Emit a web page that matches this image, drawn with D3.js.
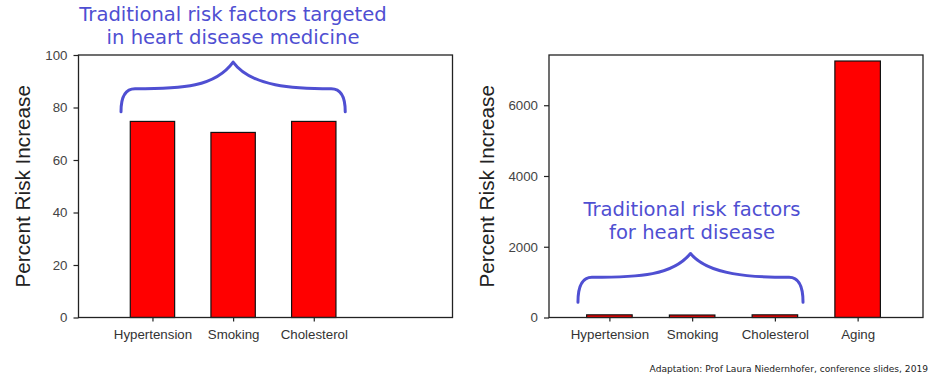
<!DOCTYPE html>
<html>
<head>
<meta charset="utf-8">
<script src="https://cdn.jsdelivr.net/npm/d3@7"></script>
<style>
  body { margin: 0; background: #fff; }
  svg { display: block; }
  .tick text { font-family: "Liberation Sans", Arial, sans-serif; }
</style>
</head>
<body>
<svg id="chart"></svg>
<script>
// chart data
const left_categories = ["Hypertension", "Smoking", "Cholesterol"];
const left_values = [74.7, 70.5, 74.7];
const left_ticks = [0, 20, 40, 60, 80, 100];

const right_categories = ["Hypertension", "Smoking", "Cholesterol", "Aging"];
const right_values = [75, 70, 75, 7250];
const right_ticks = [0, 2000, 4000, 6000];

const left_note = ["Traditional risk factors targeted", "in heart disease medicine"];
const right_note = ["Traditional risk factors", "for heart disease"];
const source_text = "Adaptation: Prof Laura Niedernhofer, conference slides, 2019";

const width = 933;
const height = 378;
const blue = "#4f4fd2";

const svg = d3.select("#chart").attr("width", width).attr("height", height);

// one panel = frame + bars + axes
function draw_panel(cfg) {
  const x = d3.scaleLinear().domain(cfg.xdomain).range([cfg.left, cfg.right]);
  const y = d3.scaleLinear().domain(cfg.ydomain).range([cfg.bottom, cfg.top]);
  const bw = x(0.55) - x(0);

  const g = svg.append("g");

  g.selectAll(".bar")
    .data(cfg.values)
    .enter().append("rect").classed("bar", true)
    .attr("x", (d, i) => x(i) - bw / 2)
    .attr("y", d => y(d))
    .attr("width", bw)
    .attr("height", d => y(0) - y(d))
    .attr("fill", "#ff0000")
    .attr("stroke", "#111")
    .attr("stroke-width", 1.2);

  // frame
  g.append("rect")
    .attr("x", cfg.left).attr("y", cfg.top)
    .attr("width", cfg.right - cfg.left).attr("height", cfg.bottom - cfg.top)
    .attr("fill", "none").attr("stroke", "#222").attr("stroke-width", 1.3);

  const yaxis = g.append("g")
    .attr("transform", `translate(${cfg.left},0)`)
    .call(d3.axisLeft(y).tickValues(cfg.ticks).tickSize(5).tickPadding(6).tickFormat(d3.format("d")));
  yaxis.select(".domain").remove();
  yaxis.selectAll(".tick line").attr("stroke", "#222").attr("stroke-width", 1.2);
  yaxis.selectAll(".tick text").attr("font-size", 13.3).attr("fill", "#444");

  const xaxis = g.append("g")
    .attr("transform", `translate(0,${cfg.bottom})`)
    .call(d3.axisBottom(x).tickValues(d3.range(cfg.categories.length)).tickSize(4).tickPadding(8)
      .tickFormat(i => cfg.categories[i]));
  xaxis.select(".domain").remove();
  xaxis.selectAll(".tick line").attr("stroke", "#222").attr("stroke-width", 1.2);
  xaxis.selectAll(".tick text").attr("font-size", 13.3).attr("fill", "#333");

  g.append("text")
    .attr("transform", `translate(${cfg.label_x},${(cfg.top + cfg.bottom) / 2}) rotate(-90)`)
    .attr("text-anchor", "middle")
    .attr("dy", "0.35em")
    .attr("font-family", "Liberation Sans, Arial, sans-serif")
    .attr("font-size", 20.7)
    .attr("fill", "#222")
    .text("Percent Risk Increase");

  // curly brace over the three traditional factors
  const b = cfg.brace;
  const x0 = x(b.from), x1 = x(b.to), cx = (x0 + x1) / 2;
  const ye = y(b.end), yf = y(b.flat), yp = y(b.peak);
  const half = (x1 - x0) / 2;
  const p = d3.path();
  p.moveTo(x0, ye);
  p.quadraticCurveTo(x0, yf, x0 + 14, yf);
  p.bezierCurveTo(x0 + half * 0.55, yf, cx - 18, yf - 2, cx, yp);
  p.bezierCurveTo(cx + 18, yf - 2, x1 - half * 0.45, yf, x1 - 14, yf);
  p.quadraticCurveTo(x1, yf, x1, ye);
  g.append("path")
    .attr("d", p.toString())
    .attr("fill", "none")
    .attr("stroke", blue)
    .attr("stroke-width", 3)
    .attr("stroke-linecap", "round")
    .attr("stroke-linejoin", "round");

  const note = g.append("text")
    .attr("text-anchor", "middle")
    .attr("font-family", "DejaVu Sans, Verdana, sans-serif")
    .attr("font-size", cfg.note_size)
    .attr("fill", blue);
  cfg.note.forEach((line, i) => {
    note.append("tspan")
      .attr("x", cfg.note_x)
      .attr("y", cfg.note_y + i * 23.3)
      .text(line);
  });
}

draw_panel({
  categories: left_categories, values: left_values, ticks: left_ticks,
  xdomain: [-0.917, 3.72], ydomain: [0, 100],
  left: 78.5, right: 452.5, top: 55, bottom: 317.5,
  label_x: 22.5,
  brace: {from: -0.39, to: 2.39, end: 78.4, flat: 87.1, peak: 97.3},
  note: left_note, note_x: 233, note_y: 21, note_size: 19.6
});

draw_panel({
  categories: right_categories, values: right_values, ticks: right_ticks,
  xdomain: [-0.73, 3.79], ydomain: [0, 7420],
  left: 549, right: 923, top: 55, bottom: 317.5,
  label_x: 487,
  brace: {from: -0.38, to: 2.34, end: 430, flat: 1135, peak: 1810},
  note: right_note, note_x: 692, note_y: 215.5, note_size: 19.6
});

svg.append("text")
  .attr("x", 928).attr("y", 372)
  .attr("text-anchor", "end")
  .attr("font-family", "DejaVu Sans, Verdana, sans-serif")
  .attr("font-size", 9.1)
  .attr("fill", "#222")
  .text(source_text);
</script>
</body>
</html>
